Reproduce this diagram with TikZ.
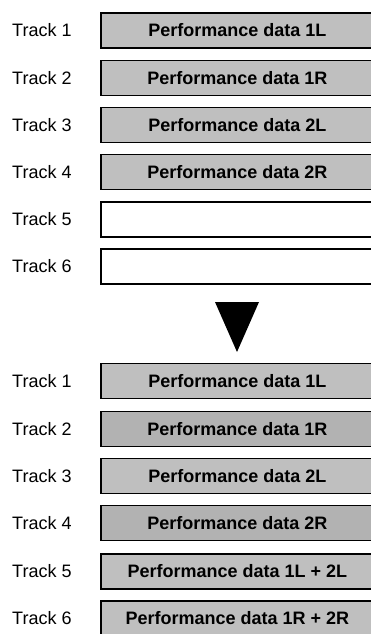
\documentclass[tikz,border=0pt]{standalone}
\usepackage{fontspec}
\setmainfont{Liberation Sans}
\usepackage{xcolor}
\usepackage{tikz}
\usetikzlibrary{positioning}

\begin{document}
\begin{tikzpicture}[x=1pt,y=-1pt,
    track/.style={anchor=west,inner sep=0pt,font=\fontsize{18}{20}\selectfont},
    databox/.style={draw,line width=1.6pt,fill=gray!50,anchor=west,
      minimum width=273pt,minimum height=35pt,inner sep=0pt,
      font=\fontsize{18}{20}\selectfont\bfseries},
    darkbox/.style={databox,fill=gray!60},
    emptybox/.style={databox,fill=white}]
  \useasboundingbox (0,0) rectangle (371,634);

  % before
  \node[track] (t1) at (12,30.5) {Track 1};
  \node[track] (t2) at (12,78) {Track 2};
  \node[track] (t3) at (12,125) {Track 3};
  \node[track] (t4) at (12,172) {Track 4};
  \node[track] (t5) at (12,219.5) {Track 5};
  \node[track] (t6) at (12,266.5) {Track 6};

  \node[databox] (b1) at (100,30.5) {Performance data 1L};
  \node[databox] (b2) at (100,78) {Performance data 1R};
  \node[databox] (b3) at (100,125) {Performance data 2L};
  \node[databox] (b4) at (100,172) {Performance data 2R};
  \node[emptybox] (b5) at (100,219.5) {};
  \node[emptybox] (b6) at (100,266.5) {};

  \fill (215,302) -- (259,302) -- (237,352) -- cycle;

  % after
  \node[track] (u1) at (12,381) {Track 1};
  \node[track] (u2) at (12,429) {Track 2};
  \node[track] (u3) at (12,476) {Track 3};
  \node[track] (u4) at (12,523) {Track 4};
  \node[track] (u5) at (12,571.5) {Track 5};
  \node[track] (u6) at (12,618.5) {Track 6};

  \node[databox] (c1) at (100,381) {Performance data 1L};
  \node[darkbox] (c2) at (100,429) {Performance data 1R};
  \node[databox] (c3) at (100,476) {Performance data 2L};
  \node[darkbox] (c4) at (100,523) {Performance data 2R};
  \node[databox] (c5) at (100,571.5) {Performance data 1L + 2L};
  \node[databox] (c6) at (100,618.5) {Performance data 1R + 2R};
\end{tikzpicture}
\end{document}
